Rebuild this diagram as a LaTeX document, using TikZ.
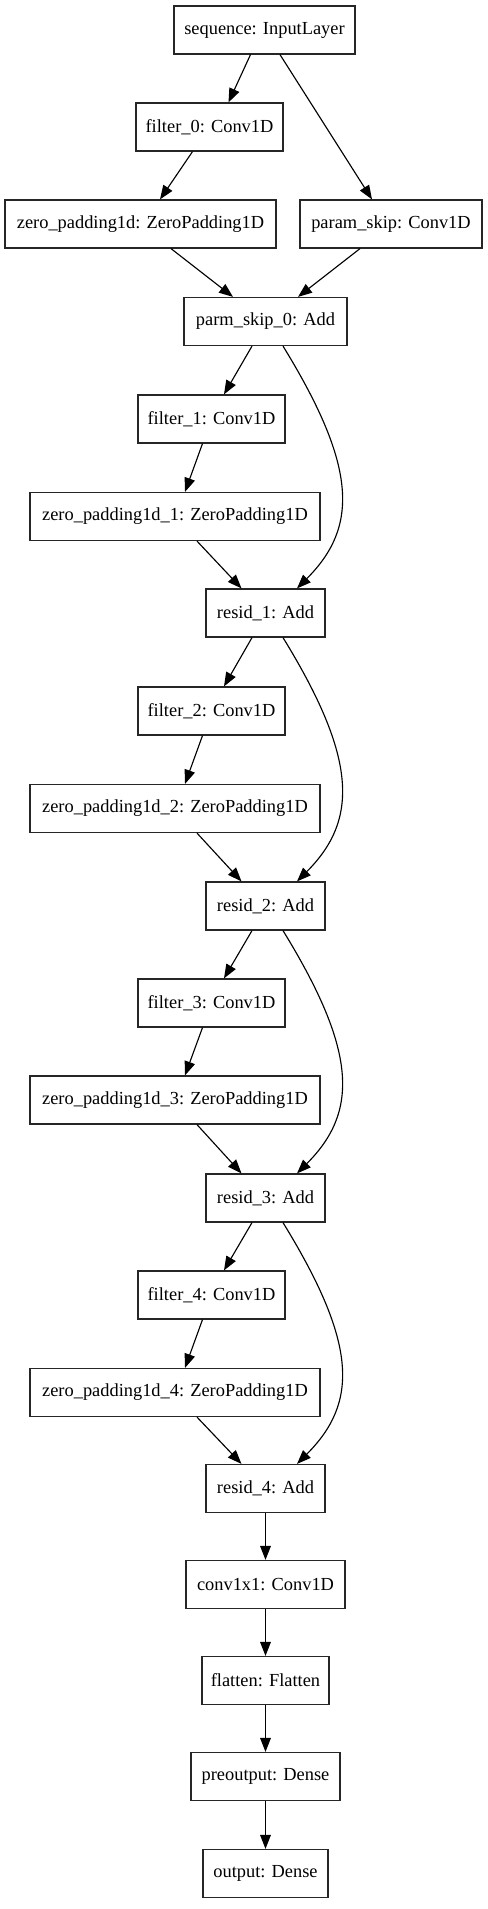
\documentclass[tikz,border=0pt]{standalone}
\usepackage{fontspec}
\setmainfont{Liberation Serif}
\usetikzlibrary{arrows.meta,calc}
\begin{document}
\begin{tikzpicture}[x=0.75pt,y=-0.75pt,
  lbox/.style={draw=black!85, line width=0.9pt, minimum height=36pt, inner sep=0pt,
    font=\fontsize{13.8}{16}\selectfont},
  bw/.style={minimum width=#1*0.75pt},
  arr/.style={line width=0.85pt, -{Triangle[length=10.5pt,width=8pt]}}]
\useasboundingbox (0,0) rectangle (487,1909);
\node[lbox,bw=181] (seq) at (264.5,30) {sequence: InputLayer};
\node[lbox,bw=147] (f0) at (209.5,127) {filter\_0: Conv1D};
\node[lbox,bw=271] (zp0) at (140.5,224) {zero\_padding1d: ZeroPadding1D};
\node[lbox,bw=182] (ps) at (391,224) {param\_skip: Conv1D};
\node[lbox,bw=163] (a0) at (265.5,321.5) {parm\_skip\_0: Add};
\node[lbox,bw=147] (f1) at (211.5,419) {filter\_1: Conv1D};
\node[lbox,bw=290] (zp1) at (175,516.5) {zero\_padding1d\_1: ZeroPadding1D};
\node[lbox,bw=119] (a1) at (265.5,613) {resid\_1: Add};
\node[lbox,bw=147] (f2) at (211.5,711) {filter\_2: Conv1D};
\node[lbox,bw=290] (zp2) at (175,808.5) {zero\_padding1d\_2: ZeroPadding1D};
\node[lbox,bw=119] (a2) at (265.5,906) {resid\_2: Add};
\node[lbox,bw=147] (f3) at (211.5,1003) {filter\_3: Conv1D};
\node[lbox,bw=290] (zp3) at (175,1100) {zero\_padding1d\_3: ZeroPadding1D};
\node[lbox,bw=119] (a3) at (265.5,1198) {resid\_3: Add};
\node[lbox,bw=147] (f4) at (211.5,1295) {filter\_4: Conv1D};
\node[lbox,bw=290] (zp4) at (175,1392.5) {zero\_padding1d\_4: ZeroPadding1D};
\node[lbox,bw=119] (a4) at (265.5,1488.5) {resid\_4: Add};
\node[lbox,bw=159] (c11) at (265.5,1584.5) {conv1x1: Conv1D};
\node[lbox,bw=127] (fl) at (265.5,1680.5) {flatten: Flatten};
\node[lbox,bw=149] (pre) at (265.5,1776.5) {preoutput: Dense};
\node[lbox,bw=125] (out) at (265.5,1873.5) {output: Dense};

\draw[arr] ($(seq.south)+(-14,0)$) -- ($(f0.north)+(19,0)$);
\draw[arr] ($(seq.south)+(15.5,0)$) -- ($(ps.north)+(-19,0)$);
\draw[arr] ($(f0.south)+(-17,0)$) -- ($(zp0.north)+(19.5,0)$);
\draw[arr] ($(zp0.south)+(30.5,0)$) -- ($(a0.north)+(-32.5,0)$);
\draw[arr] ($(ps.south)+(-31,0)$) -- ($(a0.north)+(32.5,0)$);

\draw[arr] ($(a0.south)+(-13.5,0)$) -- ($(f1.north)+(12.5,0)$);
\draw[arr] ($(f1.south)+(-9,0)$) -- ($(zp1.north)+(10,0)$);
\draw[arr] ($(zp1.south)+(22,0)$) -- ($(a1.north)+(-24,0)$);
\draw[arr] ($(a0.south)+(17.5,0)$) .. controls +(75,122) and +(61,-61) .. ($(a1.north)+(31.5,0)$);

\draw[arr] ($(a1.south)+(-13.5,0)$) -- ($(f2.north)+(12.5,0)$);
\draw[arr] ($(f2.south)+(-9,0)$) -- ($(zp2.north)+(10,0)$);
\draw[arr] ($(zp2.south)+(22,0)$) -- ($(a2.north)+(-24,0)$);
\draw[arr] ($(a1.south)+(17.5,0)$) .. controls +(75,122) and +(61,-61) .. ($(a2.north)+(31.5,0)$);

\draw[arr] ($(a2.south)+(-13.5,0)$) -- ($(f3.north)+(12.5,0)$);
\draw[arr] ($(f3.south)+(-9,0)$) -- ($(zp3.north)+(10,0)$);
\draw[arr] ($(zp3.south)+(22,0)$) -- ($(a3.north)+(-24,0)$);
\draw[arr] ($(a2.south)+(17.5,0)$) .. controls +(75,122) and +(61,-61) .. ($(a3.north)+(31.5,0)$);

\draw[arr] ($(a3.south)+(-13.5,0)$) -- ($(f4.north)+(12.5,0)$);
\draw[arr] ($(f4.south)+(-9,0)$) -- ($(zp4.north)+(10,0)$);
\draw[arr] ($(zp4.south)+(22,0)$) -- ($(a4.north)+(-24,0)$);
\draw[arr] ($(a3.south)+(17.5,0)$) .. controls +(75,122) and +(61,-61) .. ($(a4.north)+(31.5,0)$);

\draw[arr] (a4) -- (c11);
\draw[arr] (c11) -- (fl);
\draw[arr] (fl) -- (pre);
\draw[arr] (pre) -- (out);
\end{tikzpicture}
\end{document}
